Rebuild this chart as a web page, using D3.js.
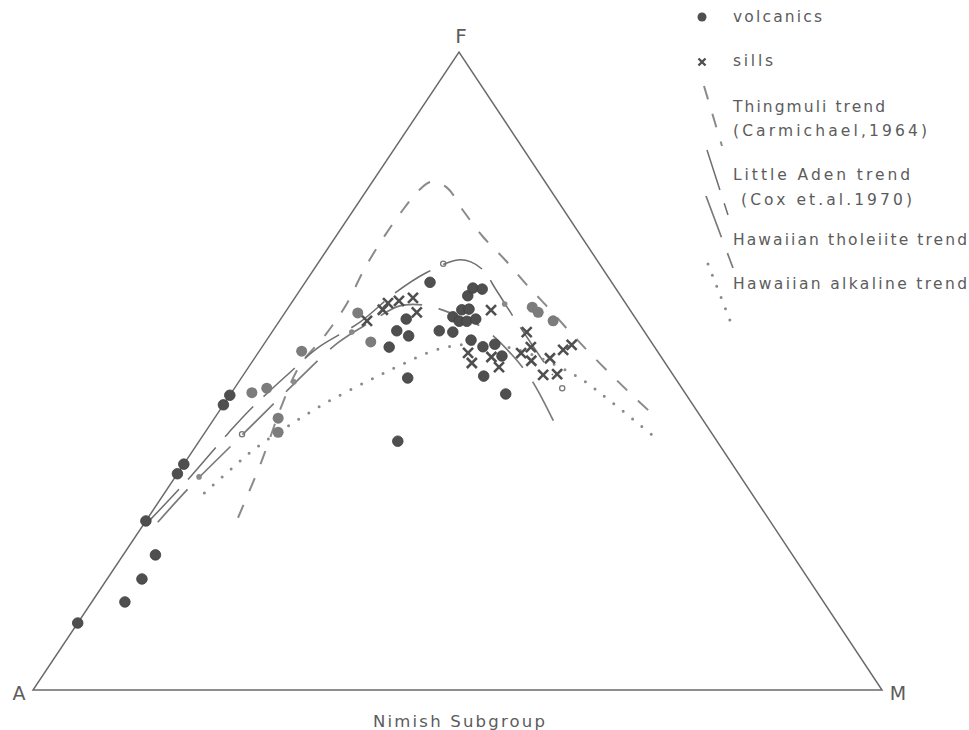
<!DOCTYPE html>
<html><head><meta charset="utf-8">
<script src="https://cdn.jsdelivr.net/npm/d3@7"></script>
<style>body{margin:0;background:#fff}</style>
</head><body>
<svg id="chart" width="969" height="730"></svg>
<script>
// ---------- DATA : ternary compositions [A, F, M] in % ----------
const volcanics = [
  [89.5,10.5,0.0],[73.5,26.5,0.0],[66.1,33.9,0.0],[64.6,35.4,0.0],[55.3,44.7,0.0],[53.8,46.2,0.0],
  [82.3,13.8,3.9],[78.5,17.4,4.1],[75.1,21.2,3.8],
  [31.3,53.8,15.0],[21.4,63.9,14.7],[27.1,58.2,14.8],[29.1,56.3,14.6],[28.1,55.5,16.4],
  [24.1,56.3,19.6],[22.6,56.1,21.3],[31.5,48.9,19.6],[37.6,39.0,23.4],
  [19.8,59.6,20.6],[18.9,59.7,21.4],[21.4,58.5,20.1],[21.0,57.8,21.2],[20.1,57.8,22.1],
  [18.9,58.2,23.0],[18.0,61.8,20.2],[16.8,63.0,20.2],[15.8,62.9,21.4],
  [21.1,54.9,24.1],[20.2,53.8,26.0],[18.6,54.2,27.2],[18.7,52.4,29.0],[22.4,49.2,28.4],[21.2,46.4,32.4]
];
const volcanicsFaint = [
  [51.0,46.6,2.4],[48.9,47.3,3.8],[49.9,42.6,7.5],[51.0,40.4,8.6],[41.9,53.1,5.0],
  [32.3,59.1,8.6],[33.0,54.5,12.4],[11.3,60.0,28.7],[11.0,59.2,29.8],[9.9,57.8,32.2]
];
const sills = [
  [29.1,59.6,11.3],[28.0,60.7,11.4],[26.5,61.0,12.5],[24.6,61.4,13.9],[25.3,59.2,15.5],
  [31.8,57.8,10.3],[16.4,59.6,24.1],[22.4,52.8,24.7],[22.8,51.3,26.0],[20.0,52.2,27.8],
  [19.9,50.6,29.5],[13.9,56.1,30.0],[16.2,52.8,31.0],[14.6,53.8,31.7],[15.6,51.6,32.8],
  [13.2,52.0,34.8],[15.3,49.4,35.3],[13.6,49.5,36.9],[11.0,53.3,35.7],[9.6,54.1,36.3]
];
const trendPoints = [[63.8,33.4,2.8],[45.2,48.3,6.5],[34.5,56.1,9.4],[14.3,60.5,25.2]];
const trendOpenPoints = [[55.4,40.1,4.5],[18.4,66.8,14.8],[14.1,47.3,38.6]];

const thingmuliTrend = [
  [62.4,27.0,10.6],[55.1,36.0,8.9],[48.4,44.7,6.9],[43.2,50.9,5.9],[37.9,55.6,6.5],
  [33.1,60.3,6.6],[27.9,66.1,5.9],[23.0,71.3,5.7],[18.9,75.2,5.8],[15.3,78.5,6.2],
  [13.3,79.6,7.0],[12.0,78.7,9.3],[11.9,75.2,12.9],[11.6,71.0,17.4],[10.8,67.4,21.8],
  [10.2,63.5,26.3],[9.4,59.6,31.0],[8.8,56.1,35.1],[8.1,52.8,39.1],[7.2,49.1,43.7],
  [6.4,46.2,47.4],[5.6,43.6,50.8]
];
const littleAdenTrend = [
  [72.9,26.6,0.4],[65.9,32.4,1.6],[57.0,40.3,2.8],[52.6,43.9,3.5],[44.9,49.8,5.3],
  [39.8,53.6,6.6],[32.7,57.7,9.6],[26.4,62.2,11.4],[21.1,65.4,13.5],[16.4,67.4,16.2],
  [15.0,67.1,17.9],[14.2,65.8,20.0],[14.2,62.7,23.1],[14.3,57.7,28.1],[14.2,49.4,36.5]
];
const hawaiianTholeiiteTrend = [
  [72.2,26.3,1.5],[65.7,31.8,2.5],[56.8,38.9,4.3],[47.1,46.6,6.3],[37.0,54.4,8.6],
  [31.6,57.7,10.8],[26.8,60.2,13.0],[23.8,60.3,15.9],[21.4,59.1,19.5],[18.7,56.7,24.5],
  [17.4,52.5,30.1],[17.1,48.3,34.7],[17.9,40.8,41.4]
];
const hawaiianAlkalineTrend = [
  [64.5,30.9,4.7],[59.6,34.5,5.9],[54.8,37.9,7.2],[48.8,41.7,9.5],[42.9,45.1,12.0],
  [36.7,48.3,15.0],[31.6,50.8,17.6],[26.0,53.3,20.7],[21.5,54.2,24.3],[16.9,53.6,29.5],
  [11.7,49.5,38.8],[9.3,45.0,45.7],[6.8,39.0,54.1]
];
const vertexLabels = ["A", "F", "M"];
const legendSymbols = ["volcanics", "sills"];
const legendTrends = [
  ["Thingmuli trend", "(Carmichael,1964)"],
  ["Little Aden trend", " (Cox et.al.1970)"],
  ["Hawaiian tholeiite trend"],
  ["Hawaiian alkaline trend"]
];
const title = "Nimish Subgroup";

// ---------- SCALES ----------
const svg = d3.select("#chart");
const originX = 33;
const fScale = d3.scaleLinear().domain([0,100]).range([690,52]);   // F -> y
const mScale = d3.scaleLinear().domain([0,100]).range([0,849]);    // M -> x offset
const fShift = d3.scaleLinear().domain([0,100]).range([0,426]);    // F -> x shear
function pos(d){
  const s = d[0]+d[1]+d[2];
  const F = d[1]/s*100, M = d[2]/s*100;
  return [originX + mScale(M) + fShift(F), fScale(F)];
}
const font = "'DejaVu Sans', sans-serif";
const ink = "#5c5c5c";

// ---------- TRIANGLE ----------
const corners = [[100,0,0],[0,0,100],[0,100,0]];
svg.append("path")
  .attr("d", d3.line().x(d=>pos(d)[0]).y(d=>pos(d)[1])(corners) + "Z")
  .attr("fill","none").attr("stroke","#6a6a6a").attr("stroke-width",1.5);

// vertex labels
const vA = pos(corners[0]), vM = pos(corners[1]), vF = pos(corners[2]);
svg.append("text").text(vertexLabels[0]).attr("x", vA[0]-14).attr("y", vA[1]+10)
  .attr("text-anchor","middle").attr("font-family",font).attr("font-size",19).attr("fill",ink);
svg.append("text").text(vertexLabels[1]).attr("x", vF[0]+2).attr("y", vF[1]-9)
  .attr("text-anchor","middle").attr("font-family",font).attr("font-size",20).attr("fill",ink);
svg.append("text").text(vertexLabels[2]).attr("x", vM[0]+16).attr("y", vM[1]+10)
  .attr("text-anchor","middle").attr("font-family",font).attr("font-size",19).attr("fill",ink);
svg.append("text").text(title).attr("x", 459).attr("y", 727)
  .attr("text-anchor","middle").attr("font-family",font).attr("font-size",16.5)
  .attr("textLength",172).attr("lengthAdjust","spacing").attr("fill",ink);

// ---------- TRENDS ----------
const curve = d3.line().x(d=>pos(d)[0]).y(d=>pos(d)[1]).curve(d3.curveCatmullRom.alpha(0.5));
const trendStyles = [
  {data: thingmuliTrend, stroke:"#8a8a8a", width:2, dash:"14,15", cap:"butt"},
  {data: littleAdenTrend, stroke:"#6e6e6e", width:1.5, dash:"42,14", cap:"butt"},
  {data: hawaiianTholeiiteTrend, stroke:"#7a7a7a", width:1.7, dash:"44,17", cap:"butt"},
  {data: hawaiianAlkalineTrend, stroke:"#8a8a8a", width:3, dash:"0,12", cap:"round"}
];
trendStyles.forEach(t=>{
  svg.append("path").attr("d", curve(t.data)).attr("fill","none")
    .attr("stroke",t.stroke).attr("stroke-width",t.width)
    .attr("stroke-dasharray",t.dash).attr("stroke-linecap",t.cap);
});

// ---------- POINTS ----------
svg.append("g").selectAll("circle").data(volcanicsFaint).join("circle")
  .attr("cx",d=>pos(d)[0]).attr("cy",d=>pos(d)[1]).attr("r",5.5)
  .attr("fill","#7c7c7c");
svg.append("g").selectAll("circle").data(volcanics).join("circle")
  .attr("cx",d=>pos(d)[0]).attr("cy",d=>pos(d)[1]).attr("r",5.3)
  .attr("fill","#4f4f4f").attr("stroke","#3f3f3f").attr("stroke-width",0.8);
svg.append("g").selectAll("circle").data(trendPoints).join("circle")
  .attr("cx",d=>pos(d)[0]).attr("cy",d=>pos(d)[1]).attr("r",2.8).attr("fill","#8a8a8a");
svg.append("g").selectAll("circle").data(trendOpenPoints).join("circle")
  .attr("cx",d=>pos(d)[0]).attr("cy",d=>pos(d)[1]).attr("r",2.6)
  .attr("fill","none").attr("stroke","#777").attr("stroke-width",1.3);
const crossPath = "M-5,-5L5,5M5,-5L-5,5";
svg.append("g").selectAll("path").data(sills).join("path")
  .attr("transform",d=>`translate(${pos(d)[0]},${pos(d)[1]})`)
  .attr("d",crossPath).attr("stroke","#4f4f4f").attr("stroke-width",2.6).attr("fill","none");

// ---------- LEGEND ----------
const lg = svg.append("g");
const textX = 733;
lg.append("circle").attr("cx",702).attr("cy",17).attr("r",4.5).attr("fill","#4f4f4f");
lg.append("path").attr("transform","translate(702,62)").attr("d","M-3.5,-3.5L3.5,3.5M3.5,-3.5L-3.5,3.5")
  .attr("stroke","#4f4f4f").attr("stroke-width",2.4);
const symTexts = [[legendSymbols[0],22,89],[legendSymbols[1],66,40]];
symTexts.forEach(s=>{
  lg.append("text").text(s[0]).attr("x",textX).attr("y",s[1]).attr("font-family",font)
    .attr("font-size",15.5).attr("fill",ink).attr("textLength",s[2]).attr("lengthAdjust","spacing");
});
const trendLegendLayout = [
  {lines:[[112,152],[136,194]], seg:[[704,86],[722,146]]},
  {lines:[[180,177],[205,179]], seg:[[707,150],[728,215]]},
  {lines:[[245,234]], seg:[[706,196],[733,268]]},
  {lines:[[289,234]], seg:[[708,264],[733,328]]}
];
legendTrends.forEach((txt,i)=>{
  const L = trendLegendLayout[i], st = trendStyles[i];
  lg.append("line").attr("x1",L.seg[0][0]).attr("y1",L.seg[0][1]).attr("x2",L.seg[1][0]).attr("y2",L.seg[1][1])
    .attr("stroke",st.stroke).attr("stroke-width",st.width).attr("stroke-dasharray",st.dash).attr("stroke-linecap",st.cap);
  txt.forEach((t,j)=>{
    lg.append("text").text(t).attr("x",textX).attr("y",L.lines[j][0]).attr("font-family",font)
      .attr("font-size",15.5).attr("fill",ink).attr("xml:space","preserve")
      .attr("textLength",L.lines[j][1]).attr("lengthAdjust","spacing");
  });
});
</script>
</body></html>
